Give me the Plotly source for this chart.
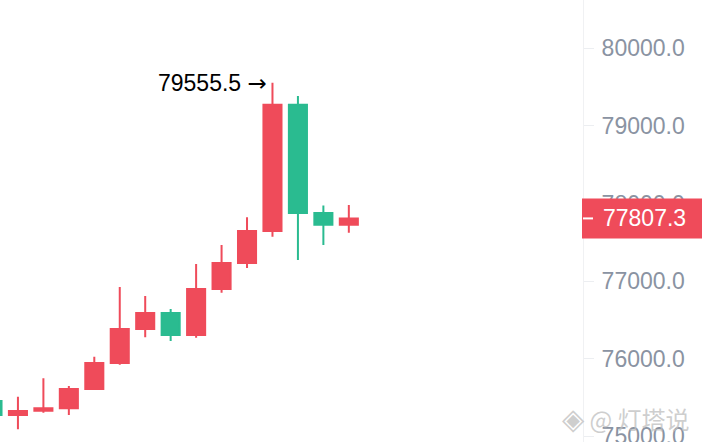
import plotly.graph_objects as go

# ---- data ----
periods = [0, 1, 2, 3, 4, 5, 6, 7, 8, 9, 10, 11, 12, 13, 14]
opens  = [75455, 75275, 75330, 75360, 75610, 75945, 76382, 76590, 76305, 76898, 77233, 77645, 79273, 77878, 77727]
highs  = [75480, 75510, 75747, 75648, 76026, 76924, 76808, 76641, 77220, 77465, 77822, 79555.5, 79385, 77974, 77981]
lows   = [75230, 75090, 75304, 75275, 75605, 75923, 76276, 76228, 76270, 76850, 77169, 77572, 77272, 77465, 77624]
closes = [75275, 75325, 75360, 75610, 75945, 76382, 76590, 76305, 76898, 77233, 77645, 79273, 77878, 77727, 77807.3]

peak_value_text = "79555.5"
last_label = "77807.3"
watermark = "@ 灯塔说"

RED = "#EF4B5A"
GREEN = "#2ABB90"
GRAY = "#8A93A2"

fig = go.Figure()
fig.add_trace(go.Candlestick(
    x=periods, open=opens, high=highs, low=lows, close=closes,
    increasing=dict(line=dict(color=RED, width=2), fillcolor=RED),
    decreasing=dict(line=dict(color=GREEN, width=2), fillcolor=GREEN),
    whiskerwidth=0, hoverinfo="skip", showlegend=False,
))

peak_i = highs.index(max(highs))
last_close = closes[-1]

fig.add_annotation(
    x=periods[peak_i], y=highs[peak_i], xref="x", yref="y",
    text=peak_value_text + ' <span style="font-family:DejaVu Sans">→</span>',
    showarrow=False, xanchor="right", yanchor="middle",
    xshift=-3, font=dict(family="Liberation Sans, Arial", size=23, color="#000000"),
)

# last price box on the axis
fig.add_shape(
    type="rect", xref="paper", yref="y", ysizemode="pixel", yanchor=last_close,
    x0=582 / 583, x1=1.21, y0=-20, y1=20,
    fillcolor=RED, line=dict(width=0), layer="above",
)
fig.add_shape(
    type="line", xref="paper", yref="y", x0=1.0, x1=593 / 583, y0=last_close, y1=last_close,
    line=dict(color="white", width=2), layer="above",
)
fig.add_annotation(
    x=601 / 583, y=last_close, xref="paper", yref="y",
    text=last_label, showarrow=False, xanchor="left", yanchor="middle",
    xshift=0,
    font=dict(family="Liberation Sans, Arial", size=23, color="white"),
)

fig.add_annotation(
    x=560 / 583, y=(442 - 416) / 442, xref="paper", yref="paper",
    text='<span style="font-size:29px">◈</span> ' + watermark, showarrow=False,
    xanchor="left", yanchor="middle",
    font=dict(family="Noto Sans CJK SC", size=24, color="rgba(190,190,190,0.75)"),
)

fig.update_layout(
    width=702, height=442,
    margin=dict(l=0, r=119, t=0, b=0, autoexpand=False),
    paper_bgcolor="white", plot_bgcolor="white",
    boxgap=0.29, boxgroupgap=0,
    xaxis=dict(visible=False, automargin=False, range=[0.295, 23.2], rangeslider=dict(visible=False)),
    yaxis=dict(
        side="right", range=[74926, 80622], dtick=1000, tick0=75000, automargin=False,
        tickformat=".1f", showgrid=False, zeroline=False,
        showline=True, linecolor="#F0F1F3", linewidth=1,
        ticks="outside", ticklen=10, tickcolor="#ECEEF1", tickwidth=1,
        ticklabelstandoff=3, ticklabeloverflow="allow",
        tickfont=dict(family="Liberation Sans, Arial", size=23, color=GRAY),
    ),
)

fig.write_html(
    "out.html",
    config={"displayModeBar": False},
    post_script="document.body.style.margin='0';document.body.style.overflow='hidden';",
)
